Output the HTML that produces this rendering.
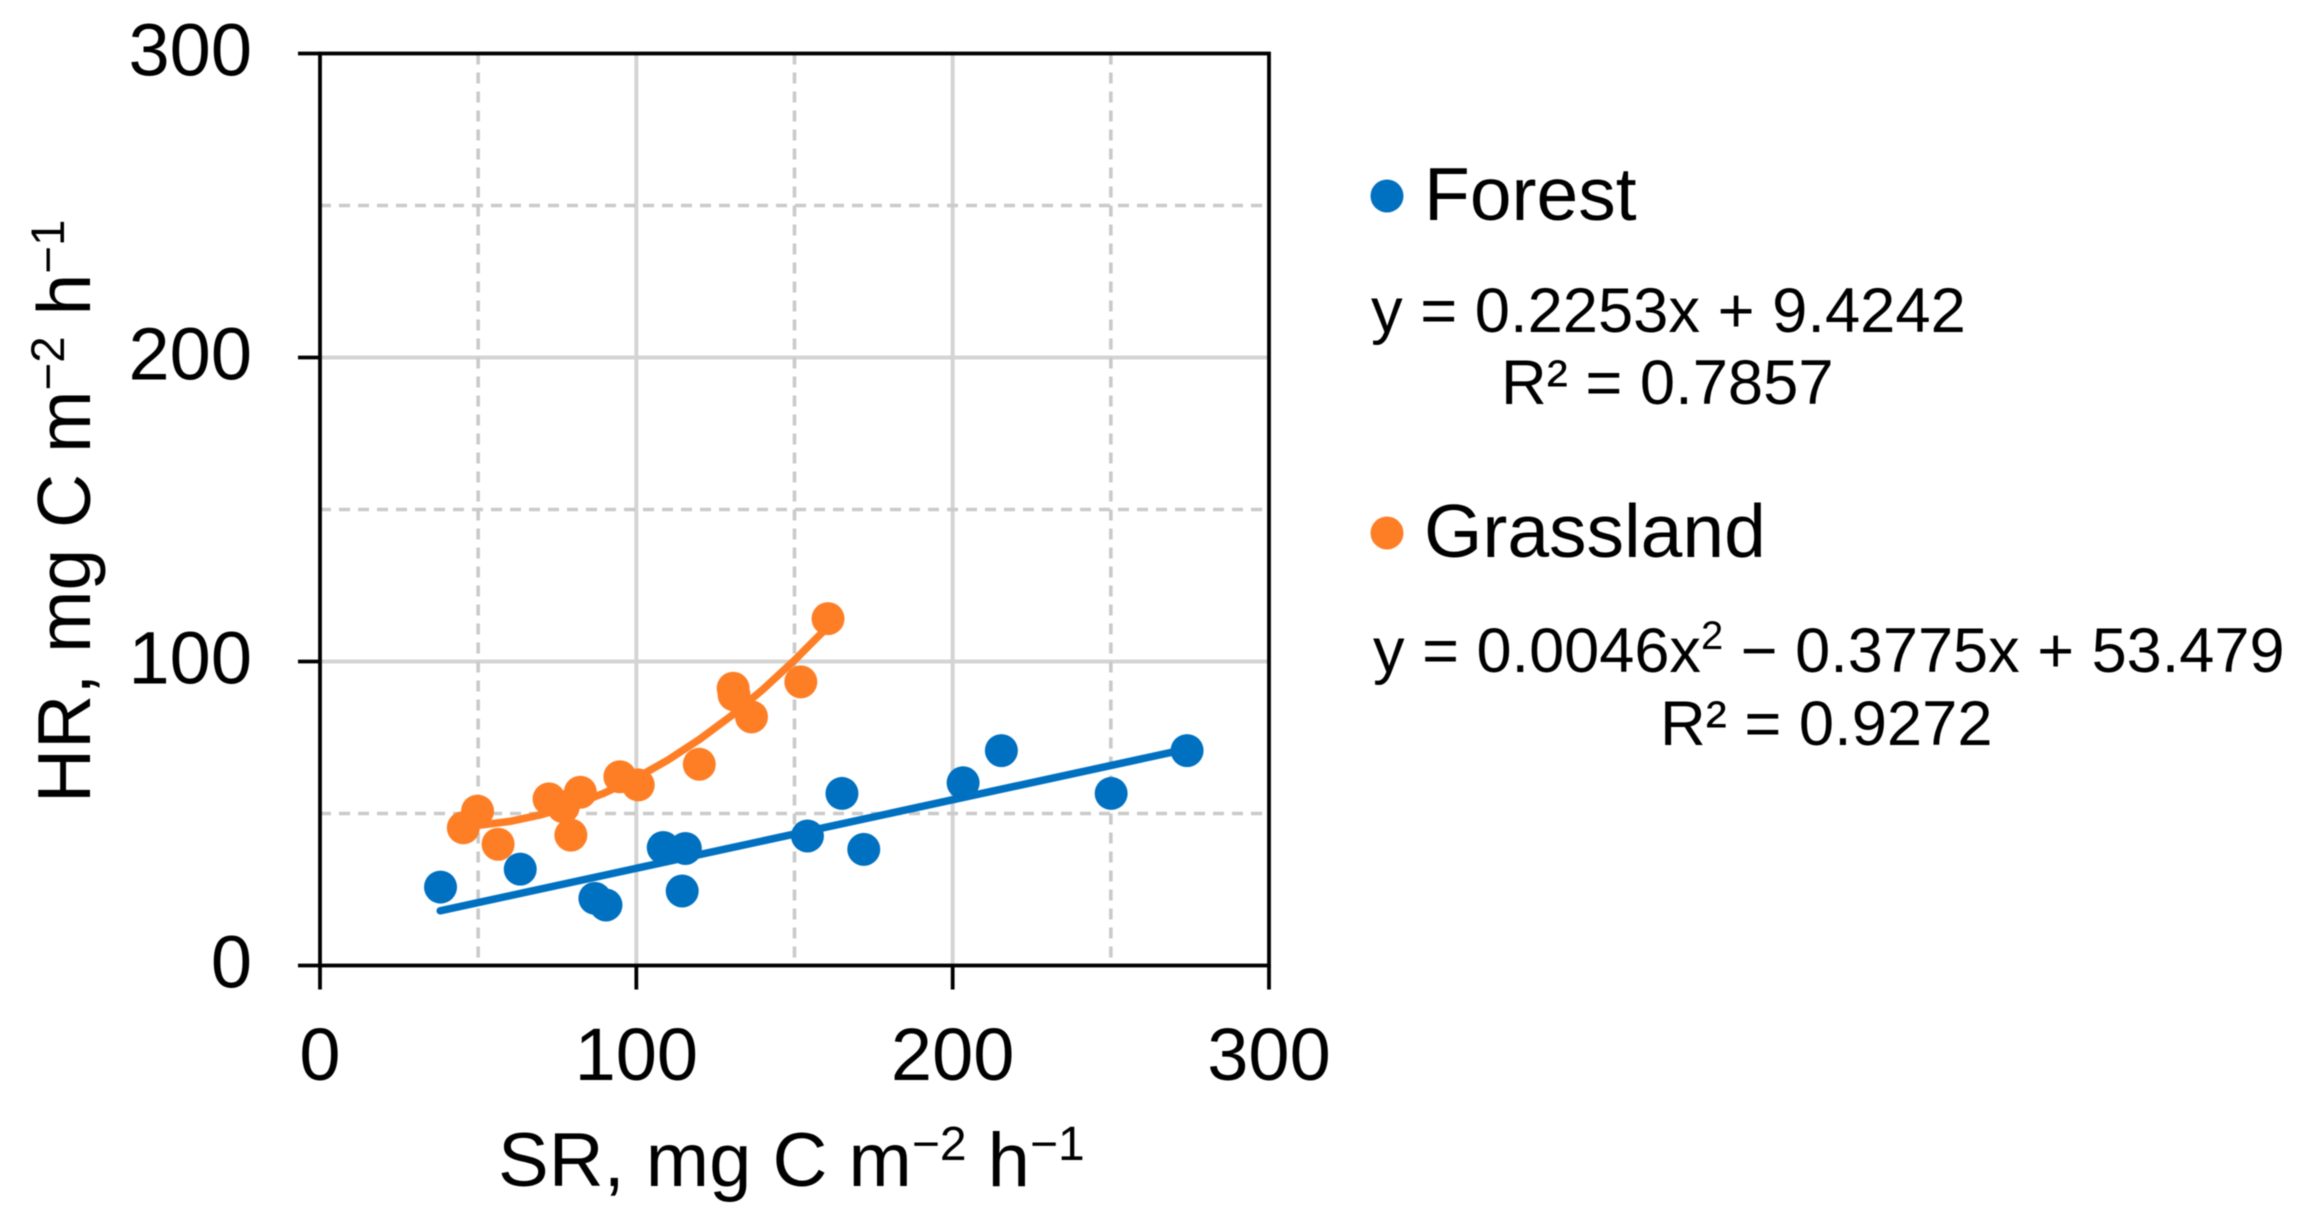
<!DOCTYPE html>
<html lang="en">
<head>
<meta charset="utf-8">
<title>HR vs SR scatter chart</title>
<style>
html,body{margin:0;padding:0;background:#fff;width:2304px;height:1227px;overflow:hidden}
svg{display:block;font-family:"Liberation Sans",Arial,sans-serif;filter:blur(0.6px)}
text{fill:#000}
</style>
</head>
<body>
<svg id="chart" xmlns="http://www.w3.org/2000/svg" width="2304" height="1227" viewBox="0 0 2304 1227">
  <g id="grid"></g>
  <g id="axes"></g>
  <g id="marks"></g>
  <text x="498" y="1186" font-size="76">SR, mg C m<tspan font-size="48" dy="-26">−2</tspan><tspan dy="26"> h</tspan><tspan font-size="48" dy="-26">−1</tspan></text>
  <text transform="translate(90,803) rotate(-90)" font-size="75">HR, mg C m<tspan font-size="47.5" dy="-26">−2</tspan><tspan dy="26"> h</tspan><tspan font-size="47.5" dy="-26">−1</tspan></text>
  <g>
    <circle cx="1387" cy="196" r="16.5" fill="#0070C0"/>
    <text x="1424" y="220" font-size="75">Forest</text>
    <text x="1371" y="332" font-size="63.3">y = 0.2253x + 9.4242</text>
    <text x="1501" y="404" font-size="63.3">R² = 0.7857</text>
  </g>
  <g>
    <circle cx="1387" cy="533" r="16.5" fill="#FD7E25"/>
    <text x="1424" y="557" font-size="75">Grassland</text>
    <text x="1373" y="672" font-size="63.1">y = 0.0046x<tspan font-size="40" dy="-23">2</tspan><tspan dy="23"> − 0.3775x + 53.479</tspan></text>
    <text x="1660" y="745" font-size="63.3">R² = 0.9272</text>
  </g>
</svg>
<script>
const xTicks = [0, 100, 200, 300];
const yTicks = [0, 100, 200, 300];
const solidGrid = [100, 200];
const dashedGrid = [50, 150, 250];

const forestX = [38.1, 63.3, 86.9, 90.4, 108.5, 115.5, 114.5, 154.1, 165, 171.9, 203.3, 215.4, 250.1, 274.1];
const forestY = [25.8, 31.7, 22.1, 19.9, 38.8, 38.5, 24.5, 42.6, 56.6, 38.2, 60.1, 70.7, 56.6, 70.7];
const grassX = [45.3, 49.8, 56.3, 72.4, 82.3, 79.3, 76.9, 94.8, 100.6, 119.9, 130.6, 130.9, 136.4, 152, 160.6];
const grassY = [45.3, 50.8, 39.9, 54.8, 57, 42.9, 52.2, 62.1, 59.4, 66.2, 91.2, 89, 81.8, 93.3, 114.1];

const forestTrendX = [38, 274];
const forestTrendY = [18, 71.2];
const grassTrendX = [45, 50, 60, 70, 80, 90, 100, 110, 120, 130, 140, 150, 161];
const grassTrendY = [45.8, 46.1, 47.4, 49.6, 52.7, 56.8, 61.7, 67.6, 74.4, 82.1, 90.8, 100.4, 111.9];

const X0 = 320, XW = 949, Y0 = 965.5, YH = 912;
function sx(v) { return X0 + v / 300 * XW; }
function sy(v) { return Y0 - v / 300 * YH; }

const NS = 'http://www.w3.org/2000/svg';
function mk(tag, parent, attrs) {
  const el = document.createElementNS(NS, tag);
  for (const k in attrs) el.setAttribute(k, attrs[k]);
  parent.appendChild(el);
  return el;
}
const grid = document.getElementById('grid');
const axes = document.getElementById('axes');
const marks = document.getElementById('marks');

solidGrid.forEach(function (v) {
  const a = mk('line', grid, { x1: sx(v), x2: sx(v), y1: sy(300), y2: sy(0), stroke: '#d4d4d4', 'stroke-width': 4 });
  
  
  const b = mk('line', grid, { x1: sx(0), x2: sx(300), y1: sy(v), y2: sy(v), stroke: '#d4d4d4', 'stroke-width': 4 });
  
  
});
dashedGrid.forEach(function (v) {
  const a = mk('line', grid, { x1: sx(v), x2: sx(v), y1: sy(300), y2: sy(0), stroke: '#cacaca', 'stroke-width': 3.6, 'stroke-dasharray': '11 8' });
  
  
  const b = mk('line', grid, { x1: sx(0), x2: sx(300), y1: sy(v), y2: sy(v), stroke: '#cacaca', 'stroke-width': 3.6, 'stroke-dasharray': '11 8' });
  
  
});

const frame = mk('rect', axes, { x: sx(0), y: sy(300), width: XW, height: YH, fill: 'none', stroke: '#000', 'stroke-width': 3.8 });



xTicks.forEach(function (v) {
  const t = mk('line', axes, { x1: sx(v), x2: sx(v), y1: sy(0), y2: sy(0) + 24, stroke: '#000', 'stroke-width': 3.8 });
  
  
  const l = mk('text', axes, { x: sx(v), y: 1080, 'font-size': 74, 'text-anchor': 'middle' });
  l.textContent = v;
  
  
});
yTicks.forEach(function (v) {
  const t = mk('line', axes, { x1: sx(0) - 22, x2: sx(0), y1: sy(v), y2: sy(v), stroke: '#000', 'stroke-width': 3.8 });
  
  
  const l = mk('text', axes, { x: 252, y: sy(v) + 22, 'font-size': 74, 'text-anchor': 'end' });
  l.textContent = v;
  
  
});

function trendPoints(xs, ys) {
  return xs.map(function (x, i) { return sx(x) + ',' + sy(ys[i]); }).join(' ');
}
const forestTrend = mk('polyline', marks, { points: trendPoints(forestTrendX, forestTrendY), fill: 'none', stroke: '#0070C0', 'stroke-width': 7.5, 'stroke-linecap': 'round' });


const grassTrend = mk('polyline', marks, { points: trendPoints(grassTrendX, grassTrendY), fill: 'none', stroke: '#FD7E25', 'stroke-width': 7.5, 'stroke-linecap': 'round', 'stroke-linejoin': 'round' });



forestX.forEach(function (x, i) {
  const c = mk('circle', marks, { cx: sx(x), cy: sy(forestY[i]), r: 16.5, fill: '#0070C0' });
  
  
});
grassX.forEach(function (x, i) {
  const c = mk('circle', marks, { cx: sx(x), cy: sy(grassY[i]), r: 16.5, fill: '#FD7E25' });
  
  
});
</script>
</body>
</html>
